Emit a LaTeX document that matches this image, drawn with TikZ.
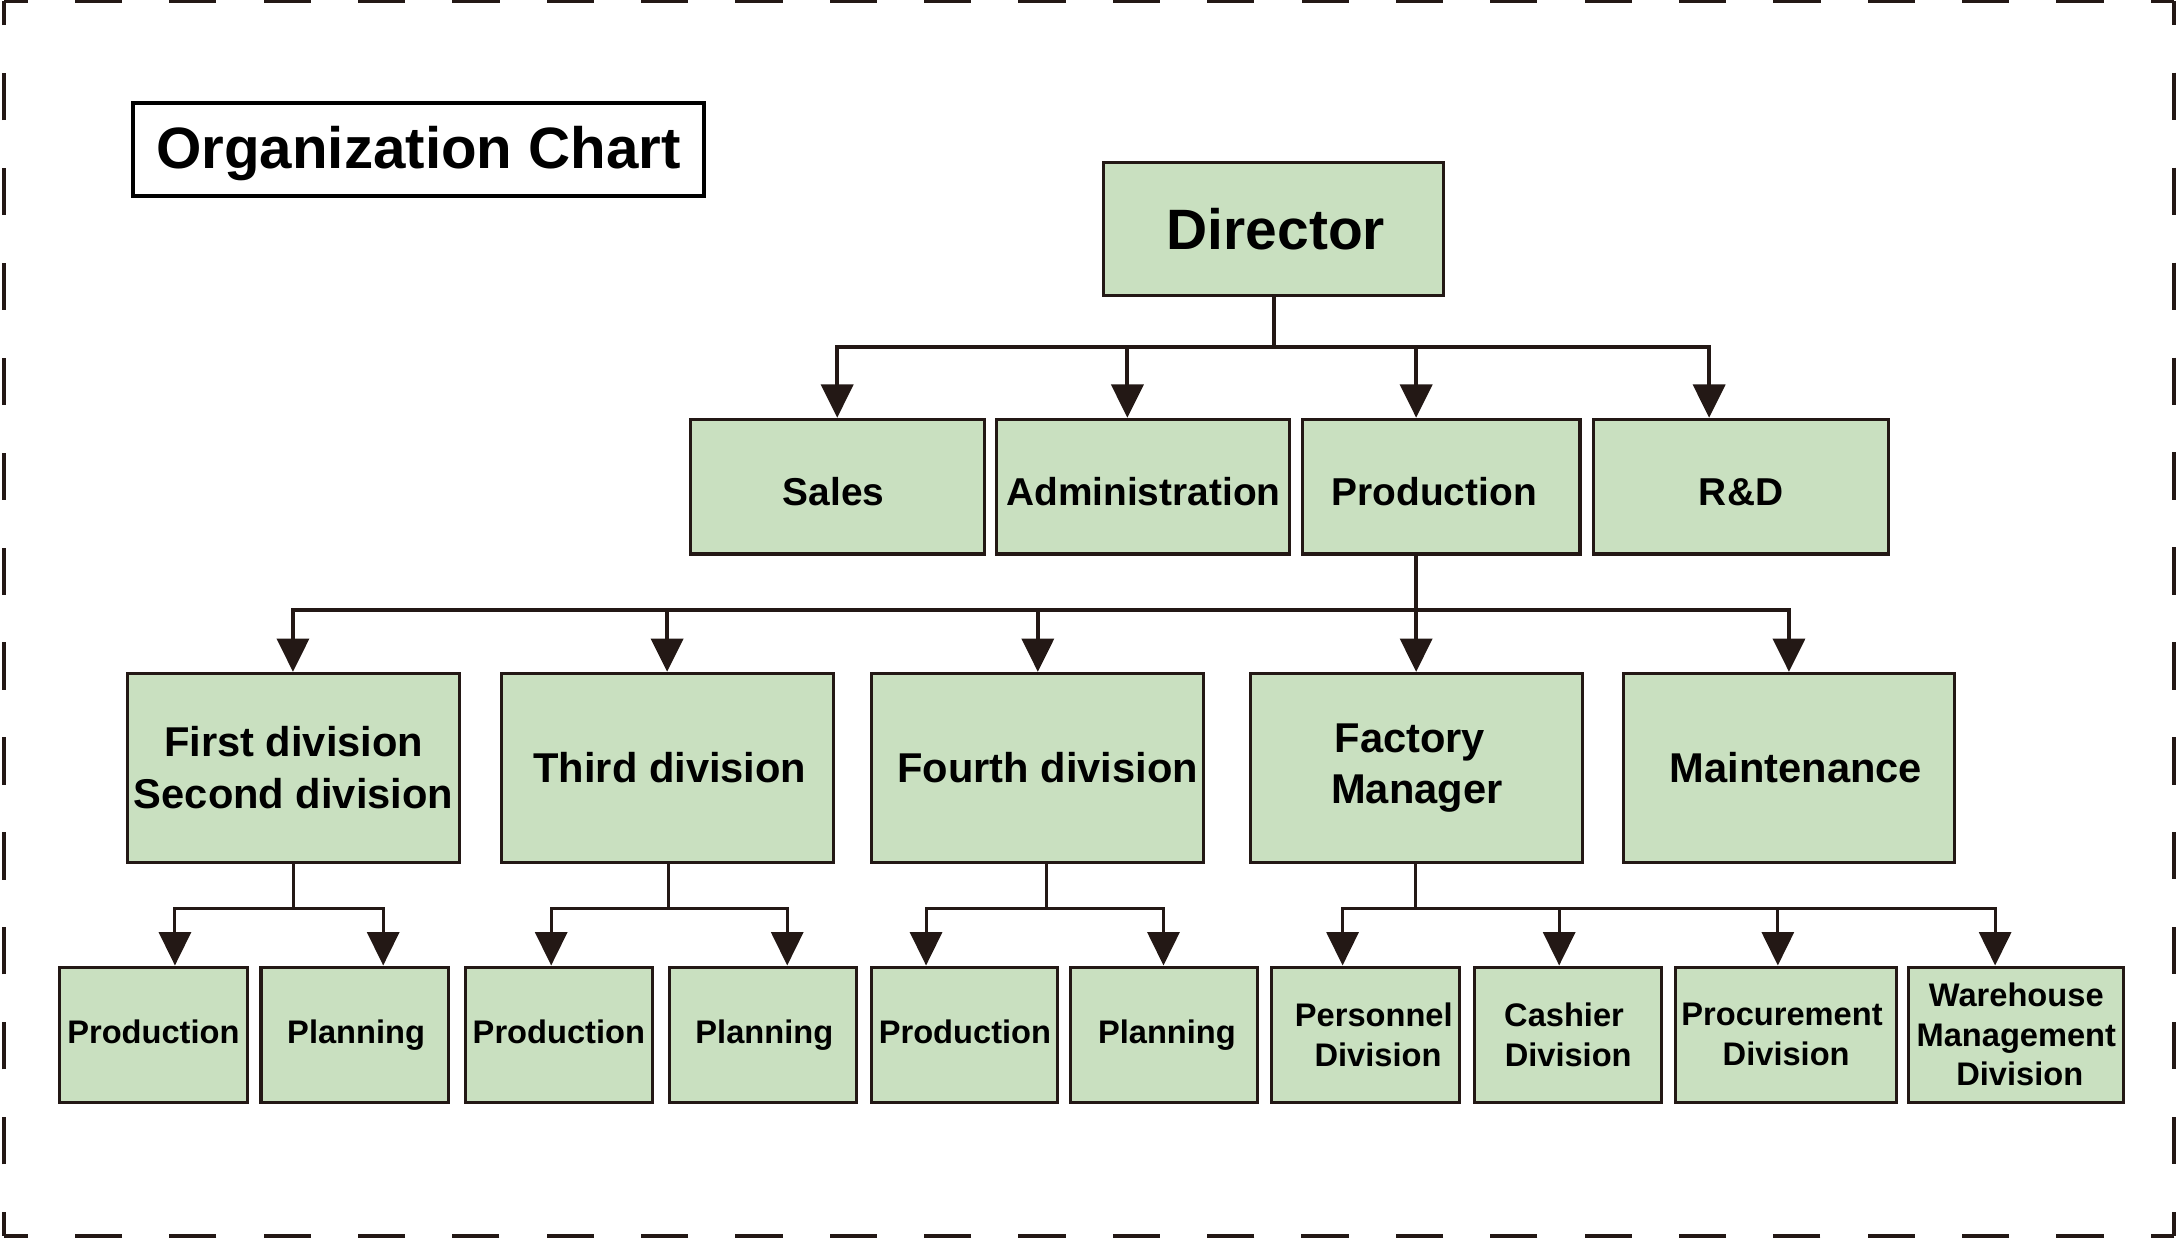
\documentclass[tikz,border=0pt]{standalone}
\usepackage{fontspec}
\setmainfont{Liberation Sans}
\usetikzlibrary{arrows.meta}
\definecolor{boxfill}{RGB}{201,224,192}
\definecolor{ink}{RGB}{35,24,21}
\begin{document}
\begin{tikzpicture}[x=1pt,y=-1pt,
  box/.style={draw=ink,line width=2.2pt,fill=boxfill,inner sep=0pt,align=center},
  lone/.style={box,minimum width=#1,minimum height=97pt,text height=27.2pt,text depth=0pt,
    font=\bfseries\fontsize{28}{34}\selectfont},
  ltwo/.style={box,minimum width=239pt,minimum height=136pt,font=\bfseries\fontsize{30}{37}\selectfont},
  lthree/.style={box,minimum width=#1,minimum height=97.5pt,font=\bfseries\fontsize{23.5}{28.5}\selectfont},
  single/.style={text height=16.9pt,text depth=4pt},
  conn/.style={draw=ink,line width=2.9pt},
  connb/.style={draw=ink,line width=2.2pt},
  arr/.style={-{Triangle[width=23pt,length=24pt]}},
  hside/.style={draw=ink,line width=3pt,dash pattern=on 34pt off 33.96pt,dash phase=17pt},
  vside/.style={draw=ink,line width=3pt,dash pattern=on 34pt off 34.38pt,dash phase=17pt}]
\useasboundingbox (0,0) rectangle (1568,897);
% dashed frame
\draw[hside] (3,1) -- (1566,1);
\draw[vside] (1566,1) -- (1566,890);
\draw[hside] (1566,890) -- (3,890);
\draw[vside] (3,890) -- (3,1);
% title
\node[draw=black,line width=3pt,minimum width=411pt,minimum height=67pt,inner sep=0pt,
      text height=30.2pt,text depth=3pt,
      font=\bfseries\fontsize{42}{50}\selectfont] (title) at (301.5,107.5) {Organization Chart};
% director
\node[box,minimum width=245pt,minimum height=96pt,font=\bfseries\fontsize{41}{48}\selectfont]
  (dir) at (917.5,165) {\hspace*{3pt}Director};
% level 1
\node[lone=212pt] (sales) at (603,350.5) {Sales\hspace*{5pt}};
\node[lone=211pt] (admin) at (823.5,350.5) {Administration};
\node[lone=200pt] (prod) at (1038,350.5) {Production\hspace*{10pt}};
\node[lone=212pt] (rd) at (1254,350.5) {R\&D};
% level 2
\node[ltwo] (fs) at (211.5,553) {First division\\Second division};
\node[ltwo] (third) at (480.5,553) {\hspace*{4pt}Third division};
\node[ltwo] (fourth) at (747.5,553) {\hspace*{14pt}Fourth division};
\node[ltwo] (fm) at (1020.5,553) {Factory\hspace*{10pt}\\Manager};
\node[ltwo] (maint) at (1288.5,553) {\hspace*{10pt}Maintenance};
% level 3
\node[lthree=135pt,single] (pa) at (110.5,745.25) {Production};
\node[lthree=135pt,single] (pla) at (255.5,745.25) {\hspace*{2pt}Planning};
\node[lthree=135pt,single] (pb) at (402.5,745.25) {Production};
\node[lthree=135pt,single] (plb) at (549.5,745.25) {\hspace*{2pt}Planning};
\node[lthree=134pt,single] (pc) at (695,745.25) {Production};
\node[lthree=135pt,single] (plc) at (838.5,745.25) {\hspace*{4pt}Planning};
\node[lthree=135pt] (pers) at (983.5,745.25) {\hspace*{12pt}Personnel\\\hspace*{18pt}Division};
\node[lthree=135pt] (cash) at (1129.5,745.25) {Cashier\hspace*{6pt}\\Division};
\node[lthree=159pt] (proc) at (1286.5,745.25) {Procurement\hspace*{6pt}\\Division};
\node[lthree=155pt] (ware) at (1452.25,745.25) {Warehouse\\Management\\\hspace*{5pt}Division};
% director -> level 1
\coordinate (j0) at (917.5,250);
\draw[conn] (dir.south) -- (j0);
\draw[conn,arr] (j0) -| (sales.north);
\draw[conn,arr] (j0) -| ([xshift=-11.5pt]admin.north);
\draw[conn,arr] (j0) -| ([xshift=-18pt]prod.north);
\draw[conn,arr] (j0) -| ([xshift=-23pt]rd.north);
% production -> level 2
\coordinate (j1) at (1020,439);
\draw[conn] ([xshift=-18pt]prod.south) -- (j1);
\draw[conn,arr] (j1) -| ([xshift=-0.5pt]fs.north);
\draw[conn,arr] (j1) -| (third.north);
\draw[conn,arr] (j1) -| (fourth.north);
\draw[conn,arr] (j1) -- ([xshift=-0.5pt]fm.north);
\draw[conn,arr] (j1) -| (maint.north);
% level 2 -> level 3
\coordinate (ja) at (211.5,654.5);
\draw[connb] (fs.south) -- (ja);
\draw[connb,arr] (ja) -| ([xshift=15.5pt]pa.north);
\draw[connb,arr] (ja) -| ([xshift=20.5pt]pla.north);
\coordinate (jb) at (481.5,654.5);
\draw[connb] ([xshift=1pt]third.south) -- (jb);
\draw[connb,arr] (jb) -| ([xshift=-5.5pt]pb.north);
\draw[connb,arr] (jb) -| ([xshift=17.5pt]plb.north);
\coordinate (jc) at (753.5,654.5);
\draw[connb] ([xshift=6pt]fourth.south) -- (jc);
\draw[connb,arr] (jc) -| ([xshift=-28pt]pc.north);
\draw[connb,arr] (jc) -| ([xshift=-0.5pt]plc.north);
\coordinate (jd) at (1019.5,654.5);
\draw[connb] ([xshift=-1pt]fm.south) -- (jd);
\draw[connb,arr] (jd) -| ([xshift=-16.5pt]pers.north);
\draw[connb,arr] (jd) -| ([xshift=-6.5pt]cash.north);
\draw[connb,arr] (jd) -| ([xshift=-6pt]proc.north);
\draw[connb,arr] (jd) -| ([xshift=-15.25pt]ware.north);
\end{tikzpicture}
\end{document}
